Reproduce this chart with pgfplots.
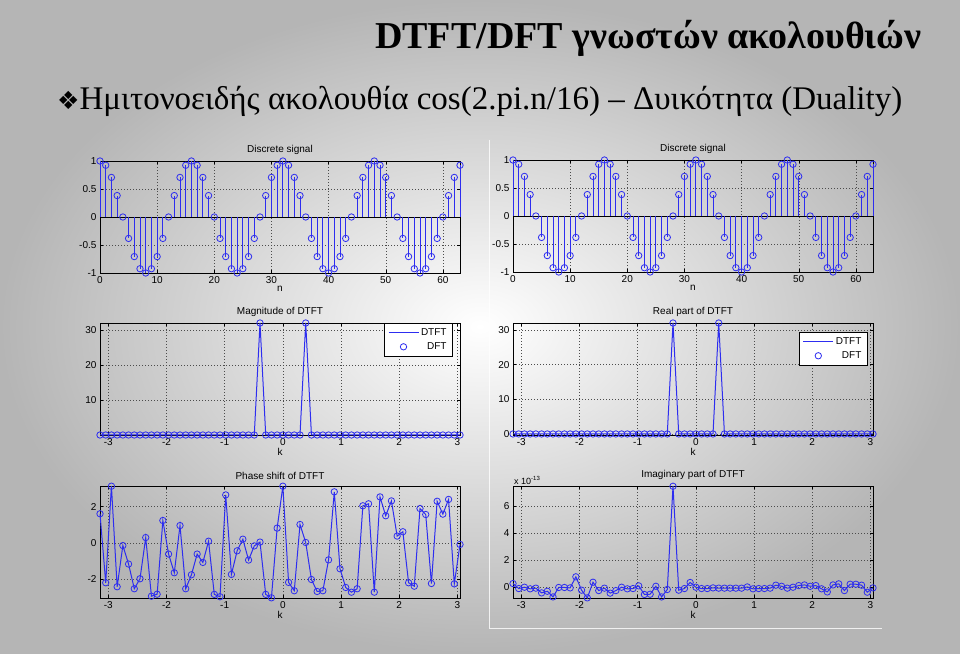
\documentclass[border=0pt]{standalone}
\usepackage{pgfplots}
\pgfplotsset{compat=1.18}
\usepackage{pgfplotstable}
\usepackage{fontspec}
\setmainfont{Liberation Serif}
\newfontfamily\plotfont{Liberation Sans}
\newfontfamily\dejavu{DejaVu Sans}
\definecolor{mblue}{RGB}{45,45,240}

\pgfplotstableread{
n x
0 1
1 0.9239
2 0.7071
3 0.3827
4 0
5 -0.3827
6 -0.7071
7 -0.9239
8 -1
9 -0.9239
10 -0.7071
11 -0.3827
12 0
13 0.3827
14 0.7071
15 0.9239
16 1
17 0.9239
18 0.7071
19 0.3827
20 0
21 -0.3827
22 -0.7071
23 -0.9239
24 -1
25 -0.9239
26 -0.7071
27 -0.3827
28 0
29 0.3827
30 0.7071
31 0.9239
32 1
33 0.9239
34 0.7071
35 0.3827
36 0
37 -0.3827
38 -0.7071
39 -0.9239
40 -1
41 -0.9239
42 -0.7071
43 -0.3827
44 0
45 0.3827
46 0.7071
47 0.9239
48 1
49 0.9239
50 0.7071
51 0.3827
52 0
53 -0.3827
54 -0.7071
55 -0.9239
56 -1
57 -0.9239
58 -0.7071
59 -0.3827
60 0
61 0.3827
62 0.7071
63 0.9239
}\sig

\pgfplotstableread{
k mag re ph im
-3.1416 0 0 1.6 0.27
-3.0434 0 0 -2.2 -0.1
-2.9452 0 0 3.12 0
-2.8471 0 0 -2.42 -0.12
-2.7489 0 0 -0.15 -0.07
-2.6507 0 0 -1.17 -0.42
-2.5525 0 0 -2.53 -0.3
-2.4544 0 0 -1.98 -0.72
-2.3562 0 0 0.29 -0.02
-2.2580 0 0 -2.94 -0.02
-2.1598 0 0 -2.83 -0.05
-2.0617 0 0 1.23 0.77
-1.9635 0 0 -0.62 -0.22
-1.8653 0 0 -1.65 -0.79
-1.7671 0 0 0.95 0.37
-1.6690 0 0 -2.53 -0.25
-1.5708 0 0 -1.76 -0.07
-1.4726 0 0 -0.62 -0.44
-1.3744 0 0 -1.08 -0.25
-1.2763 0 0 0.09 0
-1.1781 0 0 -2.84 -0.12
-1.0799 0 0 -2.97 -0.1
-0.9817 0 0 2.64 0.1
-0.8836 0 0 -1.74 -0.54
-0.7854 0 0 -0.44 -0.52
-0.6872 0 0 0.2 0.07
-0.5890 0 0 -0.95 -0.72
-0.4909 0 0 -0.17 -0.17
-0.3927 32 32 0.04 7.48
-0.2945 0 0 -2.84 -0.22
-0.1963 0 0 -3.03 -0.1
-0.0982 0 0 0.81 0.35
0 0 0 3.12 0
0.0982 0 0 -2.18 -0.1
0.1963 0 0 -2.64 -0.1
0.2945 0 0 1.01 -0.05
0.3927 32 32 0.02 -0.07
0.4909 0 0 -2.02 -0.07
0.5890 0 0 -2.68 -0.07
0.6872 0 0 -2.64 -0.07
0.7854 0 0 -0.94 -0.07
0.8836 0 0 2.81 0.02
0.9817 0 0 -1.43 -0.12
1.0799 0 0 -2.46 -0.1
1.1781 0 0 -2.72 -0.1
1.2763 0 0 -2.53 -0.07
1.3744 0 0 2.04 0.15
1.4726 0 0 2.15 0.07
1.5708 0 0 -2.72 -0.07
1.6690 0 0 2.53 0
1.7671 0 0 1.49 0.12
1.8653 0 0 2.31 0.17
1.9635 0 0 0.37 0.07
2.0617 0 0 0.61 0.12
2.1598 0 0 -2.2 -0.12
2.2580 0 0 -2.39 -0.35
2.3562 0 0 1.89 0.17
2.4544 0 0 1.56 0.25
2.5525 0 0 -2.24 -0.25
2.6507 0 0 2.29 0.22
2.7489 0 0 1.58 0.22
2.8471 0 0 2.39 0.15
2.9452 0 0 -2.26 -0.37
3.0434 0 0 -0.09 -0.05
}\dft

\pgfplotsset{
  mstyle/.style={
    scale only axis, width=360pt, height=112pt, clip=false,
    axis line style={black, line width=0.6pt},
    tick style={black, line width=0.4pt},
    tick align=inside, major tick length=3pt,
    grid=major, grid style={dash pattern=on 1pt off 2pt, black!70, line width=0.4pt},
    tick label style={font=\plotfont\fontsize{10}{11}\selectfont},
    /pgf/number format/assume math mode=true,
    title style={font=\plotfont\fontsize{10}{11}\selectfont, yshift=-3pt},
    label style={font=\plotfont\fontsize{10}{11}\selectfont},
    xlabel style={yshift=4pt},
    legend style={font=\plotfont\fontsize{10}{11}\selectfont, draw=black, fill=white,
      line width=0.5pt, row sep=2pt, inner xsep=4pt, inner ysep=3pt},
    legend cell align=right,
  },
  sigstyle/.style={mstyle, xmin=0, xmax=63, ymin=-1, ymax=1,
    xtick={0,10,...,60}, ytick={-1,-0.5,0,0.5,1}, xlabel={n}, title={Discrete signal}},
  dftstyle/.style={mstyle, xmin=-3.1416, xmax=3.0434, xtick={-3,...,3}, xlabel={k}},
  mk/.style={color=mblue, draw=mblue, mark=o, mark size=3.2pt, mark options={solid, draw=mblue, line width=0.8pt}},
  linelegend/.style={legend image code/.code={\draw[##1] (0pt,0pt) -- (30pt,0pt);}},
  marklegend/.style={legend image code/.code={\draw[mark repeat=2,mark phase=2,##1] plot coordinates {(0pt,0pt)(15pt,0pt)(30pt,0pt)};}},
}

\begin{document}
\begin{tikzpicture}
\useasboundingbox (0pt,0pt) rectangle (960pt,653pt);
\shade[inner color=white, outer color=black!29] (0pt,0pt) rectangle (960pt,653pt);
\draw[white, opacity=0.8, line width=1pt] (489pt,513pt) -- (489pt,25pt) -- (882pt,25pt);

\node[anchor=base east, font=\bfseries\fontsize{38}{40}\selectfont] at (925pt,604pt) {DTFT/DFT γνωστών ακολουθιών};
\node[anchor=base west, font=\fontsize{33}{35}\selectfont, inner sep=0pt] at (57pt,543pt)
  {{\dejavu\fontsize{25}{27}\selectfont ❖}Ημιτονοειδής ακολουθία cos(2.pi.n/16) – Δυικότητα (Duality)};

% top left
\begin{axis}[sigstyle, at={(100pt,380pt)}, anchor=south west]
\addplot[black, line width=0.6pt] coordinates {(0,0) (63,0)};
\addplot[mk, ycomb, line width=1pt] table[x=n, y=x] {\sig};
\end{axis}
% top right
\begin{axis}[sigstyle, at={(513pt,381pt)}, anchor=south west]
\addplot[black, line width=0.6pt] coordinates {(0,0) (63,0)};
\addplot[mk, ycomb, line width=1pt] table[x=n, y=x] {\sig};
\end{axis}

% middle left
\begin{axis}[dftstyle, at={(100pt,218pt)}, anchor=south west, ymin=0, ymax=32,
  ytick={10,20,30}, title={Magnitude of DTFT},
  legend style={at={(0.98,1)}, anchor=north east}]
\addplot[color=mblue, draw=mblue, line width=1pt, linelegend] table[x=k, y=mag] {\dft};
\addlegendentry{DTFT}
\addplot[mk, only marks, marklegend] table[x=k, y=mag] {\dft};
\addlegendentry{DFT}
\end{axis}
% middle right
\begin{axis}[dftstyle, at={(513pt,218pt)}, anchor=south west, ymin=-0.3, ymax=32,
  ytick={0,10,20,30}, title={Real part of DTFT},
  legend style={at={(0.985,0.92)}, anchor=north east}]
\addplot[color=mblue, draw=mblue, line width=1pt, linelegend] table[x=k, y=re] {\dft};
\addlegendentry{DTFT}
\addplot[mk, only marks, marklegend] table[x=k, y=re] {\dft};
\addlegendentry{DFT}
\end{axis}

% bottom left
\begin{axis}[dftstyle, at={(100pt,55pt)}, anchor=south west, ymin=-3.04, ymax=3.13,
  ytick={-2,0,2}, title={Phase shift of DTFT}]
\addplot[mk, line width=1pt] table[x=k, y=ph] {\dft};
\end{axis}
% bottom right
\begin{axis}[dftstyle, at={(513pt,55pt)}, anchor=south west, ymin=-0.8, ymax=7.5,
  ytick={0,2,4,6}, title={Imaginary part of DTFT}]
\addplot[mk, line width=1pt] table[x=k, y=im] {\dft};
\node[anchor=south west, font=\plotfont\fontsize{9}{10}\selectfont, inner sep=1pt]
  at (rel axis cs:0,1) {x 10\textsuperscript{-13}};
\end{axis}
\end{tikzpicture}
\end{document}
